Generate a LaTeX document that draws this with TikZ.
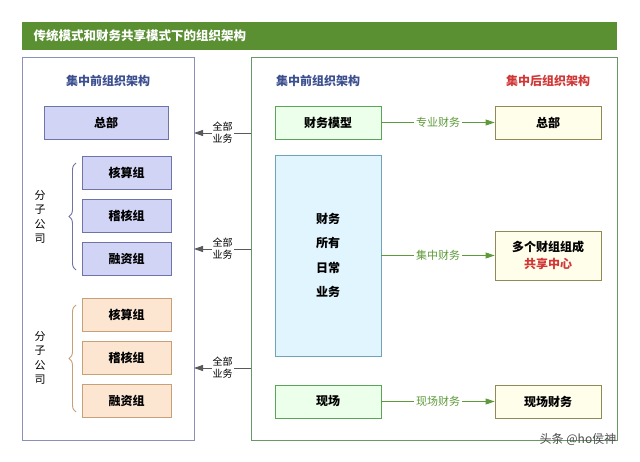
\documentclass[tikz,border=0pt]{standalone}
\usepackage{fontspec}
\setmainfont{Noto Sans CJK SC}
\usetikzlibrary{arrows.meta,decorations.pathreplacing}
\definecolor{tgreen}{HTML}{5A8F32}
\definecolor{tblue}{HTML}{3C4F8F}
\definecolor{tred}{HTML}{D03838}
\definecolor{lgreen}{HTML}{5E9A3A}
\definecolor{bfill}{HTML}{D2D4F6}
\definecolor{bdraw}{HTML}{6C74A8}
\definecolor{ofill}{HTML}{FCE6D2}
\definecolor{odraw}{HTML}{C8A078}
\tikzset{
 box/.style={draw, line width=0.8pt, minimum width=#1, inner sep=0pt, font=\bfseries\fontsize{12}{14}\selectfont},
 bluebox/.style={box=124pt, fill=bfill, draw=bdraw, minimum height=33pt},
 sbluebox/.style={box=89pt, fill=bfill, draw=bdraw, minimum height=33pt},
 orangebox/.style={box=89pt, fill=ofill, draw=odraw, minimum height=33pt},
 grbox/.style={box=106pt, fill=green!8!white, draw=green!30!gray, minimum height=33pt},
 ybox/.style={box=106pt, fill=yellow!8!white, draw=olive!40!gray, minimum height=33pt},
 head/.style={font=\bfseries\fontsize{12}{14}\selectfont},
 garrow/.style={draw=lgreen, line width=0.9pt, -{Triangle[length=9pt,width=6pt]}},
 karrow/.style={draw=gray!70!black, line width=0.9pt, -{Triangle[length=9pt,width=6pt]}},
 glabel/.style={fill=white, text=lgreen, inner sep=2pt, font=\fontsize{11}{13}\selectfont},
 klabel/.style={fill=white, inner sep=1pt, align=center, font=\fontsize{10}{12}\selectfont},
}
\begin{document}
\begin{tikzpicture}[x=1pt,y=-1pt]
\useasboundingbox (0,0) rectangle (640,462);
\fill[tgreen] (22,22) rectangle (617,50);
\node[anchor=west, text=white, font=\bfseries\fontsize{12.5}{14}\selectfont] (title) at (30,36) {传统模式和财务共享模式下的组织架构};
\draw[bdraw!80!white, line width=0.9pt] (22,57) rectangle (194,440);
\draw[green!20!gray, line width=0.9pt] (251,57) rectangle (617,440);
\node[head, text=tblue] (lt) at (108,81) {集中前组织架构};
\node[head, text=tblue] (rt1) at (318,81) {集中前组织架构};
\node[head, text=tred] (rt2) at (548,81) {集中后组织架构};
\node[bluebox] (hq) at (106,122.5) {总部};
\node[sbluebox] (a1) at (126.5,172.5) {核算组};
\node[sbluebox] (a2) at (126.5,215.5) {稽核组};
\node[sbluebox] (a3) at (126.5,258.5) {融资组};
\node[orangebox] (b1) at (126.5,314.5) {核算组};
\node[orangebox] (b2) at (126.5,357.5) {稽核组};
\node[orangebox] (b3) at (126.5,400.5) {融资组};
\draw[decorate, decoration={brace, amplitude=7pt}, bdraw, line width=0.9pt] (76,270) -- (76,163);
\draw[decorate, decoration={brace, amplitude=7pt}, odraw, line width=0.9pt] (76,412) -- (76,305);
\node[align=center, font=\fontsize{11}{14.5}\selectfont] (s1) at (40,217) {分\\子\\公\\司};
\node[align=center, font=\fontsize{11}{14.5}\selectfont] (s2) at (40,358) {分\\子\\公\\司};
\node[grbox] (fm) at (328,122.5) {财务模型};
\node[box=106pt, fill=cyan!12!white, draw=cyan!40!gray, minimum height=201pt, align=center, font=\bfseries\fontsize{12}{24.5}\selectfont] (all) at (328,255.5) {财务\\所有\\日常\\业务};
\node[grbox] (xc) at (328,401.5) {现场};
\node[ybox] (zb) at (548,122.5) {总部};
\node[ybox, minimum height=49pt, align=center, font=\bfseries\fontsize{12}{17}\selectfont] (gx) at (548,255.5) {多个财组组成\\\textcolor{tred}{共享中心}};
\node[ybox] (xcc) at (548,401.5) {现场财务};
\draw[garrow] (fm) -- node[glabel]{专业财务} (zb);
\draw[garrow] (all.east |- gx) -- node[glabel]{集中财务} (gx);
\draw[garrow] (xc) -- node[glabel]{现场财务} (xcc);
\coordinate (r1) at (251,133); \coordinate (l1) at (194,133);
\coordinate (r2) at (251,249); \coordinate (l2) at (194,249);
\coordinate (r3) at (251,368); \coordinate (l3) at (194,368);
\draw[karrow] (r1) -- node[klabel]{全部\\业务} (l1);
\draw[karrow] (r2) -- node[klabel]{全部\\业务} (l2);
\draw[karrow] (r3) -- node[klabel]{全部\\业务} (l3);
\node[text=gray!60!black, font=\fontsize{12}{14}\selectfont] (wm) at (578,439) {头条 @ho侯神};
\end{tikzpicture}
\end{document}
